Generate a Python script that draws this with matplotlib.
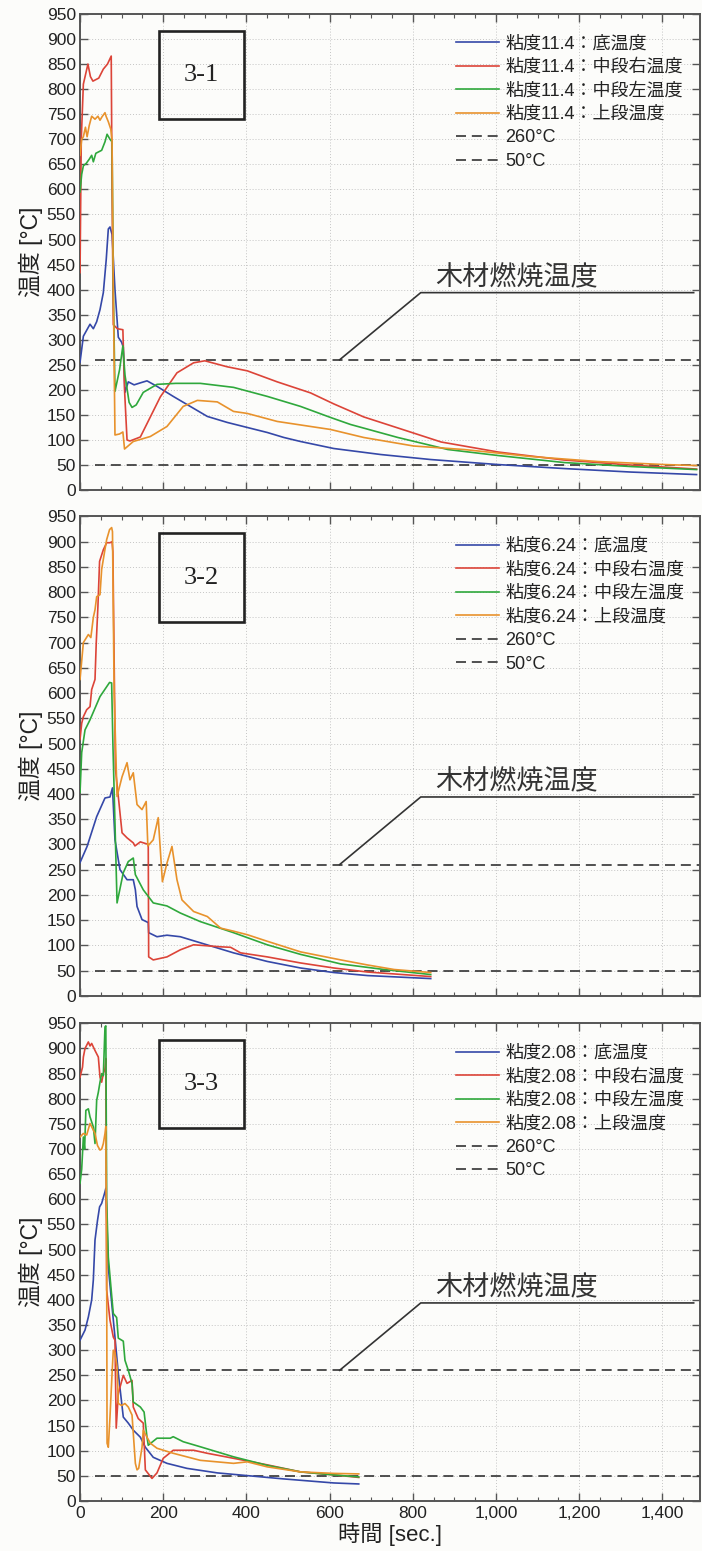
import matplotlib
matplotlib.use("Agg")
import matplotlib.pyplot as plt
from matplotlib.ticker import MultipleLocator, FuncFormatter
from matplotlib.patches import Rectangle

plt.rcParams["font.family"] = ["Liberation Sans", "Noto Sans CJK JP", "DejaVu Sans"]

# ---- data ----
panel_names = ["3-1", "3-2", "3-3"]
viscosities = ["11.4", "6.24", "2.08"]
series_names = ["底温度", "中段右温度", "中段左温度", "上段温度"]
ref_labels = ["260°C", "50°C"]
ref_values = [260, 50]

# panel 3-1
p1_blue_t = [0, 8, 24, 32, 40, 48, 56, 63, 68, 72, 77, 84, 92, 100, 104, 108, 116, 130, 145, 161,
             185, 224, 265, 306, 354, 402, 450, 490, 530, 610, 723, 843, 1005, 1164, 1325, 1482]
p1_blue_y = [255, 307, 331, 322, 336, 360, 394, 460, 521, 525, 510, 400, 305, 295, 285, 195, 216, 210, 214, 218,
             207, 187, 167, 147, 135, 125, 115, 105, 97, 83, 71, 61, 51, 43, 36, 31]
p1_red_t = [0, 3, 8, 19, 25, 31, 45, 56, 66, 75, 77, 80, 90, 103, 107, 113, 120, 145, 193, 233,
            273, 300, 354, 402, 474, 554, 610, 682, 764, 868, 1005, 1164, 1325, 1482]
p1_red_y = [434, 700, 810, 850, 825, 816, 822, 840, 850, 866, 600, 330, 322, 320, 200, 100, 98, 106, 186, 234,
            254, 258, 246, 238, 216, 194, 172, 146, 124, 96, 76, 60, 50, 42]
p1_green_t = [0, 4, 8, 15, 22, 28, 32, 38, 45, 52, 60, 65, 72, 77, 80, 84, 95, 103, 108, 118, 125, 135,
              152, 185, 230, 289, 369, 450, 530, 602, 650, 764, 884, 1005, 1164, 1325, 1482]
p1_green_y = [595, 630, 647, 652, 660, 668, 655, 672, 675, 678, 695, 710, 700, 695, 400, 197, 240, 288, 230, 175, 165, 170,
              195, 211, 213, 213, 205, 187, 167, 145, 131, 105, 81, 69, 55, 47, 41]
p1_orange_t = [0, 4, 8, 13, 17, 22, 28, 36, 43, 48, 53, 60, 63, 68, 74, 77, 80, 84, 95, 103, 107, 128, 169,
               209, 248, 282, 330, 369, 402, 474, 554, 602, 682, 802, 923, 1084, 1245, 1405, 1482]
p1_orange_y = [668, 700, 705, 724, 705, 727, 746, 740, 746, 738, 745, 753, 745, 735, 720, 697, 400, 110, 112, 116, 82, 97, 107,
               127, 167, 179, 176, 157, 153, 137, 127, 121, 105, 88, 81, 67, 57, 51, 49]

# panel 3-2
p2_blue_t = [0, 17, 40, 60, 72, 78, 84, 96, 113, 128, 133, 137, 149, 164, 165, 185, 209, 241, 289, 369,
             450, 530, 610, 691, 843]
p2_blue_y = [264, 296, 355, 392, 394, 412, 309, 250, 230, 230, 210, 177, 151, 145, 125, 117, 120, 117, 105, 85,
             68, 55, 46, 40, 34]
p2_red_t = [0, 4, 8, 16, 24, 28, 36, 39, 43, 47, 56, 64, 72, 77, 79, 85, 92, 101, 113, 128, 132, 145, 164, 165,
            176, 209, 241, 273, 338, 362, 386, 450, 530, 610, 691, 843]
p2_red_y = [508, 540, 553, 567, 573, 607, 627, 700, 772, 861, 884, 898, 898, 900, 880, 450, 395, 323, 313, 303, 297, 305, 300, 77,
            71, 77, 91, 101, 97, 96, 85, 77, 65, 55, 47, 38]
p2_green_t = [0, 4, 12, 24, 48, 71, 76, 79, 89, 104, 116, 128, 133, 152, 176, 209, 241, 289, 369, 450,
              530, 627, 731, 843]
p2_green_y = [403, 482, 527, 547, 593, 621, 620, 500, 184, 244, 266, 273, 240, 210, 184, 178, 164, 147, 125, 101,
              82, 63, 52, 42]
p2_orange_t = [0, 8, 20, 26, 32, 36, 40, 48, 52, 60, 64, 71, 76, 78, 82, 89, 101, 113, 120, 128, 137, 149, 159,
               163, 176, 188, 198, 209, 221, 233, 245, 273, 306, 338, 369, 402, 450, 530, 627, 691, 755, 843]
p2_orange_y = [627, 700, 716, 710, 750, 765, 791, 795, 845, 885, 904, 924, 928, 920, 600, 395, 434, 462, 428, 442, 379, 369, 385,
               297, 309, 353, 226, 263, 296, 230, 190, 167, 157, 134, 128, 121, 108, 87, 71, 61, 52, 46]

# panel 3-3
p3_blue_t = [0, 12, 20, 28, 32, 36, 42, 47, 52, 60, 62, 68, 77, 84, 92, 104, 116, 128, 145, 157,
             176, 209, 257, 330, 410, 490, 610, 670]
p3_blue_y = [320, 340, 366, 400, 440, 519, 558, 585, 592, 615, 622, 465, 386, 326, 254, 167, 155, 141, 127, 107,
             87, 75, 65, 56, 50, 44, 36, 34]
p3_red_t = [0, 6, 8, 12, 20, 24, 28, 36, 44, 48, 52, 56, 60, 62, 64, 72, 80, 84, 87, 92, 104, 113, 125, 128,
            140, 152, 157, 173, 185, 200, 224, 273, 306, 369, 450, 530, 610, 670]
p3_red_y = [843, 863, 883, 900, 913, 905, 910, 896, 883, 843, 833, 850, 860, 880, 420, 360, 326, 320, 145, 214, 250, 234, 240, 187,
            164, 155, 62, 45, 56, 85, 101, 101, 95, 85, 72, 58, 52, 47]
p3_green_t = [0, 4, 8, 11, 14, 20, 24, 32, 36, 40, 44, 48, 52, 56, 60, 62, 64, 68, 77, 80, 88, 92, 104, 108,
              116, 125, 128, 145, 154, 161, 164, 185, 217, 224, 248, 289, 369, 450, 530, 610, 670]
p3_green_y = [632, 660, 724, 700, 777, 780, 764, 744, 711, 797, 813, 833, 850, 846, 943, 945, 600, 485, 400, 373, 365, 324, 318, 280,
              260, 234, 197, 187, 177, 127, 111, 125, 125, 128, 118, 108, 88, 71, 58, 52, 48]
p3_orange_t = [0, 8, 16, 24, 30, 36, 42, 48, 52, 56, 60, 62, 64, 65, 68, 72, 77, 80, 84, 89, 92, 100, 108, 116,
               125, 128, 133, 137, 141, 149, 152, 161, 169, 185, 224, 289, 369, 402, 450, 530, 610, 670]
p3_orange_y = [724, 731, 728, 751, 741, 731, 707, 698, 700, 711, 731, 745, 479, 115, 107, 167, 254, 300, 295, 267, 194, 190, 194, 187,
               171, 135, 75, 62, 65, 107, 141, 127, 115, 105, 95, 81, 75, 78, 68, 58, 55, 54]

panels = [
    [(p1_blue_t, p1_blue_y), (p1_red_t, p1_red_y), (p1_green_t, p1_green_y), (p1_orange_t, p1_orange_y)],
    [(p2_blue_t, p2_blue_y), (p2_red_t, p2_red_y), (p2_green_t, p2_green_y), (p2_orange_t, p2_orange_y)],
    [(p3_blue_t, p3_blue_y), (p3_red_t, p3_red_y), (p3_green_t, p3_green_y), (p3_orange_t, p3_orange_y)],
]

# ---- style ----
colors = ["#3548a8", "#dc4438", "#2fa83c", "#e8922c"]
ref_t = [35, 1490]
leader_t = [624, 819, 1475]
leader_y = [260, 394, 394]
paper = "#fcfcfa"
spine_c = "#555555"

fig = plt.figure(figsize=(7.02, 15.51), dpi=100, facecolor=paper)

axes_rects = [
    [0.114, 0.684, 0.883, 0.307],
    [0.114, 0.358, 0.883, 0.309],
    [0.114, 0.0322, 0.883, 0.308],
]

for i, rect in enumerate(axes_rects):
    ax = fig.add_axes(rect)
    ax.set_facecolor(paper)

    for (t, y), c, name in zip(panels[i], colors, series_names):
        ax.plot(t, y, color=c, lw=1.2, label=f"粘度{viscosities[i]}：{name}", zorder=3)
    for v, lab in zip(ref_values, ref_labels):
        ax.plot(ref_t, [v, v], color="#333333", lw=1.2, dashes=(6, 3.5), label=lab, zorder=2)

    ax.set_xlim(0, 1490)
    ax.set_ylim(0, 950)
    ax.xaxis.set_major_locator(MultipleLocator(200))
    ax.xaxis.set_minor_locator(MultipleLocator(50))
    ax.yaxis.set_major_locator(MultipleLocator(50))
    ax.xaxis.set_major_formatter(FuncFormatter(lambda v, p: f"{int(v):,}"))
    ax.tick_params(which="both", direction="in", top=True, right=True, colors=spine_c,
                   labelcolor="#222222", labelsize=12.5)
    ax.tick_params(which="major", length=6, width=1)
    ax.tick_params(which="minor", length=3, width=0.8)
    ax.tick_params(axis="y", pad=3)
    if i < 2:
        ax.tick_params(axis="x", labelbottom=False)
    for s in ax.spines.values():
        s.set_color(spine_c)
        s.set_linewidth(1.4)
    ax.grid(True, which="major", color="#c4c4c4", lw=0.7, linestyle=(0, (1, 2)))
    ax.set_axisbelow(True)

    ax.set_ylabel("温度 [°C]", fontsize=16.5, color="#222222", labelpad=3)

    leg = ax.legend(loc="upper left", bbox_to_anchor=(0.606, 0.955), frameon=False,
                    fontsize=13, handlelength=2.4, handletextpad=0.35, labelspacing=0.36,
                    borderpad=0, borderaxespad=0)
    for txt in leg.get_texts():
        txt.set_color("#222222")

    # panel tag box
    ax.add_patch(Rectangle((0.127, 0.78), 0.138, 0.185, transform=ax.transAxes,
                           fill=False, ec="#222222", lw=1.9, zorder=4))
    ax.text(0.196, 0.872, panel_names[i], transform=ax.transAxes, ha="center", va="center",
            fontsize=19, family=["Liberation Serif"], color="#222222", zorder=5)

    # leader line for wood combustion temperature
    ax.plot(leader_t, leader_y, color="#333333", lw=1.2, zorder=4)
    ax.text(1050, 423, "木材燃焼温度", ha="center", va="center", fontsize=19.5,
            family=["Noto Sans CJK JP"], color="#333333", zorder=5)

    if i == 2:
        ax.set_xlabel("時間 [sec.]", fontsize=16, color="#222222", labelpad=1)

fig.savefig("out.png", dpi=100, facecolor=paper)
